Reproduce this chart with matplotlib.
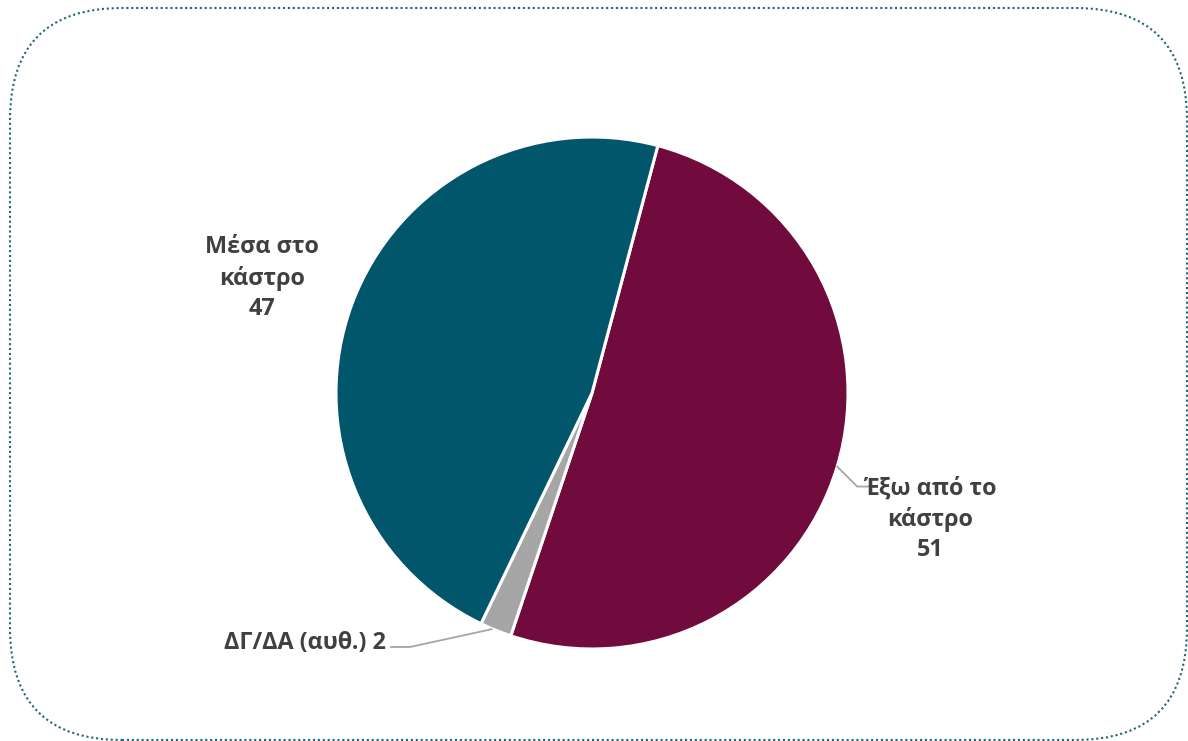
import matplotlib.pyplot as plt
from matplotlib.patches import FancyBboxPatch
import numpy as np

labels = ["Έξω από το\nκάστρο\n51", "ΔΓ/ΔΑ (αυθ.) 2", "Μέσα στο\nκάστρο\n47"]
values = [51, 2, 47]
colors = ["#720B3D", "#A6A6A6", "#02566B"]

W, H = 1188, 741
fig = plt.figure(figsize=(W / 100, H / 100), dpi=100)
ax = fig.add_axes([0, 0, 1, 1])
ax.set_xlim(0, W)
ax.set_ylim(0, H)
ax.set_aspect("equal")
ax.axis("off")

# rounded dotted frame
frame = FancyBboxPatch((10, 1), 1177, 732, boxstyle="round,pad=0,rounding_size=112",
                       fill=False, edgecolor="#1E6678", linewidth=1.5,
                       linestyle=(0, (1, 1.35)))
ax.add_patch(frame)

cx, cy, r = 592, H - 393, 256
start = 75.1
wedges, _ = ax.pie(values, colors=colors, startangle=start, counterclock=False,
                   center=(cx, cy), radius=r,
                   wedgeprops=dict(edgecolor="white", linewidth=2.2))
ax.set_xlim(0, W)
ax.set_ylim(0, H)

txt = dict(fontsize=16.8, fontweight="bold", color="#404040", family="Open Sans",
           ha="center", va="center", linespacing=1.33)

def mid_point(w):
    a = np.deg2rad((w.theta1 + w.theta2) / 2)
    return cx + r * np.cos(a), cy + r * np.sin(a)

# Έξω από το κάστρο
px, py = mid_point(wedges[0])
ax.plot([px, px + 20, px + 31], [py, py - 20, py - 20], color="#A6A6A6", lw=1.3)
ax.text(930, H - 519, labels[0], **txt)

# ΔΓ/ΔΑ
px, py = mid_point(wedges[1])
ax.plot([px - 4, 410, 391], [py + 1, H - 647, H - 647], color="#A6A6A6", lw=1.3)
t = dict(txt)
t["ha"] = "right"
ax.text(386, H - 643, labels[1], **t)

# Μέσα στο κάστρο
ax.text(262, H - 278, labels[2], **txt)

fig.savefig("out.png", dpi=100)
